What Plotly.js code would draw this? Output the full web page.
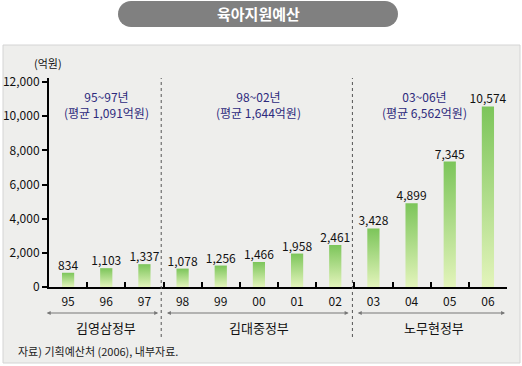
<!DOCTYPE html>
<html>
<head>
<meta charset="utf-8">
<script src="https://cdn.plot.ly/plotly-3.0.1.min.js"></script>
<style>html,body{margin:0;padding:0;background:#fff;}#chart{width:522px;height:366px;}</style>
</head>
<body>
<div id="chart"></div>
<script>
// ---- data ----
const years = ['95','96','97','98','99','00','01','02','03','04','05','06'];
const budget = [834, 1103, 1337, 1078, 1256, 1466, 1958, 2461, 3428, 4899, 7345, 10574];
const valueLabels = ['834','1,103','1,337','1,078','1,256','1,466','1,958','2,461','3,428','4,899','7,345','10,574'];
const periodLabels = ['95~97년<br>(평균 1,091억원)', '98~02년<br>(평균 1,644억원)', '03~06년<br>(평균 6,562억원)'];
const governments = ['김영삼정부', '김대중정부', '노무현정부'];
const chartTitle = '육아지원예산';
const unitLabel = '(억원)';
const sourceNote = '자료) 기획예산처 (2006), 내부자료.';

// ---- layout geometry (pixels) ----
const W = 522, H = 366;
const M = {l: 49, r: 15, t: 78, b: 79};
const PW = W - M.l - M.r, PH = H - M.t - M.b;
const px = x => (x - M.l) / PW;
const py = y => (H - M.b - y) / PH;
const FONT = '"Noto Sans CJK KR", "Noto Sans", sans-serif';

const halfW = 0.16;
const traces = [];
budget.forEach((v, i) => {
  traces.push({
    type: 'scatter', mode: 'lines',
    x: [i - halfW, i - halfW, i + halfW, i + halfW, i - halfW],
    y: [0, v, v, 0, 0],
    fill: 'toself',
    line: {width: 0, color: 'rgba(0,0,0,0)'},
    fillgradient: {type: 'vertical', colorscale: [[0, '#e3f4bb'], [1, '#7cc55a']]},
    hoverinfo: 'skip', showlegend: false
  });
});
traces.push({
  type: 'scatter', mode: 'text',
  x: years.map((_, i) => i), y: budget,
  text: valueLabels, textposition: 'top center',
  textfont: {family: FONT, size: 12, color: '#111'},
  hoverinfo: 'skip', showlegend: false, cliponaxis: false
});

// pill path for title
function pillPath(x0, x1, y0, y1) {
  const r = (y1 - y0) / 2, cy = (y0 + y1) / 2;
  const pts = [];
  for (let k = 0; k <= 16; k++) { const a = -Math.PI / 2 + Math.PI * k / 16; pts.push([x1 - r + r * Math.cos(a), cy + r * Math.sin(a)]); }
  for (let k = 0; k <= 16; k++) { const a = Math.PI / 2 + Math.PI * k / 16; pts.push([x0 + r + r * Math.cos(a), cy + r * Math.sin(a)]); }
  return 'M' + pts.map(p => px(p[0]).toFixed(5) + ',' + py(p[1]).toFixed(5)).join(' L') + ' Z';
}

const n = years.length;
const minorVals = [];
for (let i = 0; i < n - 1; i++) minorVals.push(i + 0.5);

const shapes = [
  {type: 'rect', xref: 'paper', yref: 'paper', x0: px(3), x1: px(520), y0: py(363), y1: py(45),
   fillcolor: '#eeeeec', line: {color: '#d4d4d4', width: 1}, layer: 'below'},
  {type: 'path', xref: 'paper', yref: 'paper', path: pillPath(118, 398, 1, 27),
   fillcolor: '#808080', line: {width: 0}, layer: 'below'},
  {type: 'line', xref: 'x', yref: 'paper', x0: 2.44, x1: 2.44, y0: py(337), y1: 1,
   line: {color: '#555', width: 1, dash: 'dot'}},
  {type: 'line', xref: 'x', yref: 'paper', x0: 7.45, x1: 7.45, y0: py(337), y1: 1,
   line: {color: '#555', width: 1, dash: 'dot'}}
];

const arrowSpans = [[-0.6, 2.36], [2.55, 7.35], [7.55, 11.45]];
const groupCenters = [1, 5, 9.6];
const periodCenters = [1, 5, 9.35];

const annotations = [
  {xref: 'paper', yref: 'paper', x: px(258), y: py(14), xanchor: 'center', yanchor: 'middle',
   text: '<b>' + chartTitle + '</b>', showarrow: false,
   font: {family: FONT, size: 15, color: '#fff'}},
  {xref: 'paper', yref: 'paper', x: px(48), y: py(63), xanchor: 'center', yanchor: 'middle',
   text: unitLabel, showarrow: false,
   font: {family: FONT, size: 11, color: '#111'}},
  {xref: 'paper', yref: 'paper', x: px(16), y: py(351), xanchor: 'left', yanchor: 'middle',
   text: sourceNote, showarrow: false,
   font: {family: FONT, size: 11, color: '#222'}}
];
periodLabels.forEach((t, k) => annotations.push({
  xref: 'x', yref: 'paper', x: periodCenters[k], y: py(104.5), xanchor: 'center', yanchor: 'middle',
  text: t, showarrow: false,
  font: {family: FONT, size: 12, color: '#2d2a7c'}, align: 'center'
}));
governments.forEach((t, k) => {
  annotations.push({
    xref: 'x', yref: 'paper', x: groupCenters[k], y: py(327), xanchor: 'center', yanchor: 'middle',
    text: t, showarrow: false,
    font: {family: FONT, size: 13, color: '#111'}
  });
  annotations.push({
    xref: 'x', yref: 'paper', x: arrowSpans[k][1], y: py(313), axref: 'x', ayref: 'pixel',
    ax: arrowSpans[k][0], ay: 0, text: '', showarrow: true, arrowside: 'end+start',
    arrowhead: 2, arrowsize: 0.8, arrowwidth: 1, arrowcolor: '#777', standoff: 0, startstandoff: 0
  });
});

const layout = {
  width: W, height: H,
  margin: M,
  paper_bgcolor: '#fff', plot_bgcolor: '#fff',
  showlegend: false,
  font: {family: FONT, size: 12, color: '#111'},
  xaxis: {
    range: [-0.5, n - 0.5], tickmode: 'array', tickvals: years.map((_, i) => i), ticktext: years,
    ticks: '', showgrid: false, zeroline: false, showline: true, linecolor: '#000', linewidth: 2,
    tickfont: {family: FONT, size: 12, color: '#111'}, ticklabelstandoff: 3,
    minor: {tickmode: 'array', tickvals: minorVals, ticks: 'inside', ticklen: 5, tickwidth: 2, tickcolor: '#000', showgrid: false},
    fixedrange: true
  },
  yaxis: {
    range: [0, 12240], tickmode: 'array', tickvals: [0, 2000, 4000, 6000, 8000, 10000, 12000],
    ticktext: ['0', '2,000', '4,000', '6,000', '8,000', '10,000', '12,000'],
    ticks: 'outside', ticklen: 5, tickwidth: 2, tickcolor: '#000',
    showgrid: false, zeroline: false, showline: true, linecolor: '#000', linewidth: 2,
    tickfont: {family: FONT, size: 12, color: '#111'}, fixedrange: true
  },
  shapes: shapes,
  annotations: annotations
};

Plotly.newPlot('chart', traces, layout, {staticPlot: true, displayModeBar: false});
</script>
</body>
</html>
